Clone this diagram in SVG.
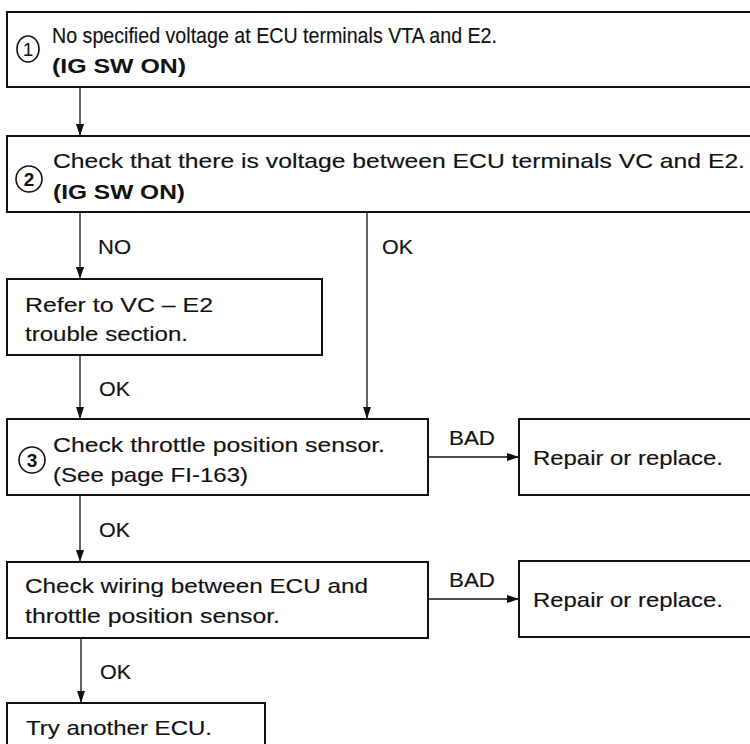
<svg xmlns="http://www.w3.org/2000/svg" width="750" height="744" viewBox="0 0 750 744">
<style>
.box{fill:#fff;stroke:#111;stroke-width:2}
.t{font-family:"Liberation Sans",Arial,sans-serif;font-size:21px;fill:#111;stroke:#111;stroke-width:0.15}
.b{font-weight:bold;stroke-width:0}
.num{font-family:"Liberation Sans",Arial,sans-serif;font-size:19px;font-weight:bold;fill:#111;text-anchor:middle}
.ring{fill:none;stroke:#111;stroke-width:1.6}
.c{stroke:#111;stroke-width:1.3;fill:none}
</style>
<defs>
<marker id="ah" viewBox="0 0 12 8" refX="12" refY="4" markerWidth="12" markerHeight="8" markerUnits="userSpaceOnUse" orient="auto">
<path d="M0,0 L12,4 L0,8 Z" fill="#111"/>
</marker>
</defs>
<rect width="750" height="744" fill="#fff"/>

<g id="connectors">
<line class="c" x1="80" y1="87" x2="80" y2="136" marker-end="url(#ah)"/>
<line class="c" x1="80" y1="212" x2="80" y2="279" marker-end="url(#ah)"/>
<line class="c" x1="367" y1="212" x2="367" y2="419" marker-end="url(#ah)"/>
<line class="c" x1="80" y1="355" x2="80" y2="419" marker-end="url(#ah)"/>
<line class="c" x1="428" y1="457" x2="519" y2="457" marker-end="url(#ah)"/>
<line class="c" x1="80" y1="495" x2="80" y2="562" marker-end="url(#ah)"/>
<line class="c" x1="428" y1="599" x2="519" y2="599" marker-end="url(#ah)"/>
<line class="c" x1="81" y1="638" x2="81" y2="703" marker-end="url(#ah)"/>
<text class="t" x="98" y="254" textLength="33" lengthAdjust="spacingAndGlyphs">NO</text>
<text class="t" x="382" y="254" textLength="31" lengthAdjust="spacingAndGlyphs">OK</text>
<text class="t" x="99" y="396" textLength="31" lengthAdjust="spacingAndGlyphs">OK</text>
<text class="t" x="449" y="445" textLength="46" lengthAdjust="spacingAndGlyphs">BAD</text>
<text class="t" x="99" y="537" textLength="31" lengthAdjust="spacingAndGlyphs">OK</text>
<text class="t" x="449" y="587" textLength="46" lengthAdjust="spacingAndGlyphs">BAD</text>
<text class="t" x="100" y="679" textLength="31" lengthAdjust="spacingAndGlyphs">OK</text>
</g>

<g id="step1">
<rect class="box" x="7" y="12" width="760" height="75"/>
<ellipse class="ring" cx="28" cy="49" rx="11" ry="13"/>
<text class="num" x="28" y="56" style="font-weight:normal">1</text>
<text class="t" x="52" y="43" style="font-size:22px" textLength="445" lengthAdjust="spacingAndGlyphs">No specified voltage at ECU terminals VTA and E2.</text>
<text class="t b" x="52" y="73" textLength="134" lengthAdjust="spacingAndGlyphs">(IG SW ON)</text>
</g>

<g id="step2">
<rect class="box" x="7" y="136" width="760" height="76"/>
<circle class="ring" cx="29" cy="179" r="13"/>
<text class="num" x="29" y="186">2</text>
<text class="t" x="53" y="168" textLength="692" lengthAdjust="spacingAndGlyphs">Check that there is voltage between ECU terminals VC and E2.</text>
<text class="t b" x="53" y="199" textLength="132" lengthAdjust="spacingAndGlyphs">(IG SW ON)</text>
</g>

<g id="refer">
<rect class="box" x="7" y="279" width="315" height="76"/>
<text class="t" x="25" y="312" textLength="188" lengthAdjust="spacingAndGlyphs">Refer to VC – E2</text>
<text class="t" x="25" y="341" textLength="163" lengthAdjust="spacingAndGlyphs">trouble section.</text>
</g>

<g id="step3">
<rect class="box" x="7" y="419" width="421" height="76"/>
<circle class="ring" cx="32" cy="460" r="13"/>
<text class="num" x="32" y="467">3</text>
<text class="t" x="53" y="452" textLength="332" lengthAdjust="spacingAndGlyphs">Check throttle position sensor.</text>
<text class="t" x="53" y="482" textLength="195" lengthAdjust="spacingAndGlyphs">(See page FI-163)</text>
</g>

<g id="repair1">
<rect class="box" x="519" y="419" width="250" height="76"/>
<text class="t" x="533" y="465" textLength="190" lengthAdjust="spacingAndGlyphs">Repair or replace.</text>
</g>

<g id="wiring">
<rect class="box" x="7" y="562" width="421" height="76"/>
<text class="t" x="25" y="593" textLength="343" lengthAdjust="spacingAndGlyphs">Check wiring between ECU and</text>
<text class="t" x="25" y="623" textLength="255" lengthAdjust="spacingAndGlyphs">throttle position sensor.</text>
</g>

<g id="repair2">
<rect class="box" x="519" y="561" width="250" height="76"/>
<text class="t" x="533" y="607" textLength="190" lengthAdjust="spacingAndGlyphs">Repair or replace.</text>
</g>

<g id="ecu">
<rect class="box" x="7" y="703" width="258" height="60"/>
<text class="t" x="26" y="735" textLength="186" lengthAdjust="spacingAndGlyphs">Try another ECU.</text>
</g>
</svg>
